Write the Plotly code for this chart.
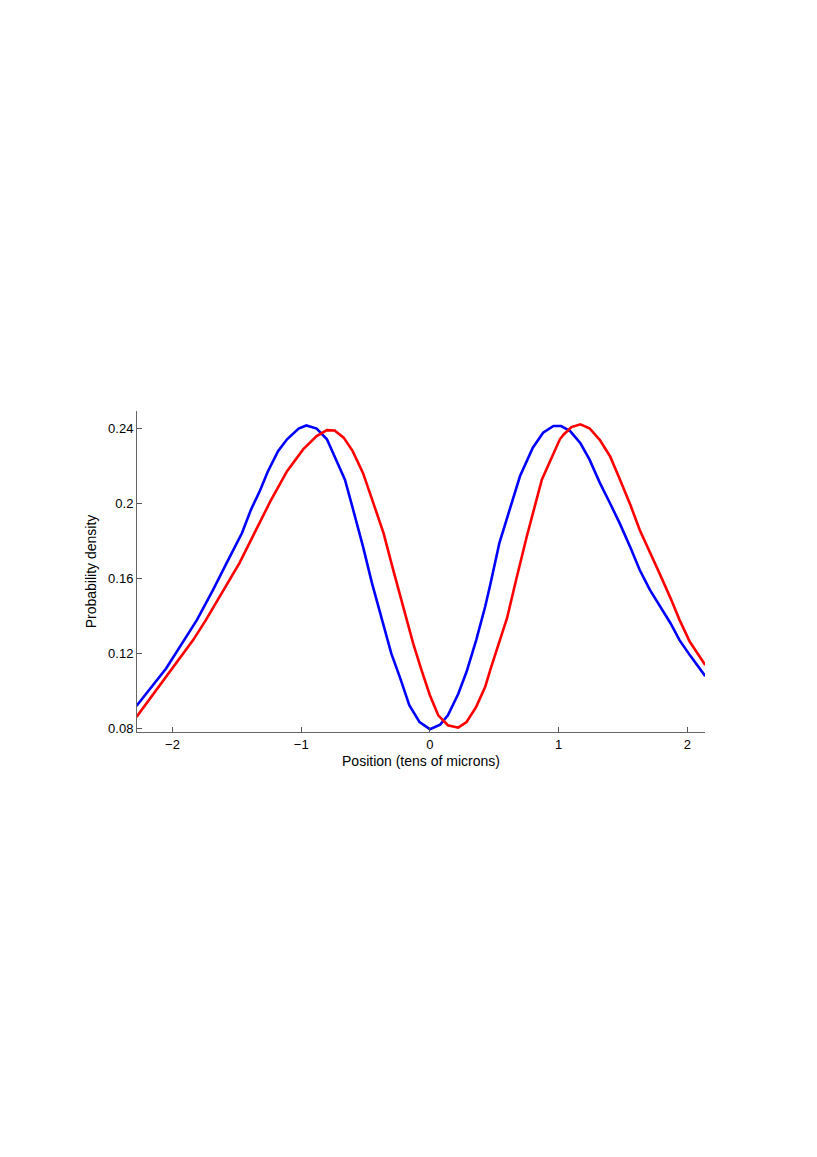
import plotly.graph_objects as go

# blue curve
blue_x = [-2.28, -2.05, -1.81, -1.685, -1.58, -1.46, -1.39, -1.32, -1.26, -1.18,
          -1.11, -1.02, -0.96, -0.88, -0.80, -0.74, -0.66, -0.60, -0.52, -0.45,
          -0.38, -0.30, -0.23, -0.16, -0.08, 0.0, 0.08, 0.14, 0.22, 0.285,
          0.36, 0.43, 0.47, 0.54, 0.62, 0.70, 0.80, 0.88, 0.96, 1.02,
          1.09, 1.17, 1.24, 1.32, 1.40, 1.48, 1.56, 1.63, 1.71, 1.79,
          1.87, 1.94, 2.02, 2.14]
blue_y = [0.0921, 0.1121, 0.1380, 0.1540, 0.1683, 0.1843, 0.1968, 0.2070, 0.2170, 0.2280,
          0.2343, 0.2400, 0.2417, 0.2400, 0.2343, 0.2253, 0.2128, 0.1977, 0.1772, 0.1576,
          0.1397, 0.1201, 0.1068, 0.0925, 0.0835, 0.0797, 0.0821, 0.0871, 0.0985, 0.1103,
          0.1272, 0.1451, 0.1570, 0.1790, 0.1968, 0.2146, 0.2298, 0.2378, 0.2414, 0.2414,
          0.2387, 0.2322, 0.2236, 0.2112, 0.2002, 0.1888, 0.1763, 0.1647, 0.1540, 0.1451,
          0.1362, 0.1272, 0.1192, 0.1080]

# red curve
red_x = [-2.28, -2.06, -1.84, -1.74, -1.61, -1.48, -1.35, -1.24, -1.11, -0.985,
         -0.88, -0.80, -0.74, -0.67, -0.60, -0.52, -0.44, -0.36, -0.285, -0.21,
         -0.13, -0.065, 0.0, 0.065, 0.14, 0.22, 0.285, 0.36, 0.43, 0.47,
         0.52, 0.60, 0.67, 0.75, 0.87, 0.93, 0.97, 1.01, 1.04, 1.10,
         1.17, 1.24, 1.32, 1.40, 1.48, 1.56, 1.63, 1.71, 1.79, 1.87,
         1.94, 2.02, 2.14]
red_y = [0.0862, 0.1068, 0.1272, 0.1380, 0.1531, 0.1683, 0.1861, 0.2012, 0.2173, 0.2289,
         0.2360, 0.2392, 0.2390, 0.2352, 0.2280, 0.2164, 0.2004, 0.1843, 0.1647, 0.1451,
         0.1255, 0.1112, 0.0978, 0.0871, 0.0818, 0.0805, 0.0835, 0.0916, 0.1023, 0.1115,
         0.1225, 0.1390, 0.1593, 0.1817, 0.2128, 0.2218, 0.2285, 0.2343, 0.2369, 0.2408,
         0.2423, 0.2402, 0.2340, 0.2253, 0.2123, 0.1990, 0.1861, 0.1736, 0.1620, 0.1496,
         0.1380, 0.1263, 0.1139]

x_ticks = [-2, -1, 0, 1, 2]
x_labels = ["\u22122", "\u22121", "0", "1", "2"]
y_ticks = [0.08, 0.12, 0.16, 0.2, 0.24]
y_labels = ["0.08", "0.12", "0.16", "0.2", "0.24"]

fig = go.Figure()
fig.add_trace(go.Scatter(x=blue_x, y=blue_y, mode="lines",
                         line=dict(color="#0000ff", width=2.6)))
fig.add_trace(go.Scatter(x=red_x, y=red_y, mode="lines",
                         line=dict(color="#ff0000", width=2.6)))

fig.update_layout(
    width=817, height=1157,
    paper_bgcolor="white", plot_bgcolor="white",
    showlegend=False,
    margin=dict(l=129, r=120, t=403, b=433),
    font=dict(family="Liberation Sans, Arial, sans-serif", size=13, color="black"),
)
fig.update_xaxes(
    range=[-2.276, 2.138], tickvals=x_ticks, ticktext=x_labels,
    ticks="inside", ticklen=5, tickcolor="#555555",
    showline=True, linecolor="#666666", linewidth=1,
    showgrid=False, zeroline=False,
    title=dict(text="Position (tens of microns)", standoff=5, font=dict(size=14)),
)
fig.update_yaxes(
    range=[0.0782, 0.2494], tickvals=y_ticks, ticktext=y_labels,
    ticks="inside", ticklen=5, tickcolor="#555555",
    showline=True, linecolor="#666666", linewidth=1,
    showgrid=False, zeroline=False,
    title=dict(text="Probability density", standoff=8, font=dict(size=14)),
)

fig.write_html("out.html")
